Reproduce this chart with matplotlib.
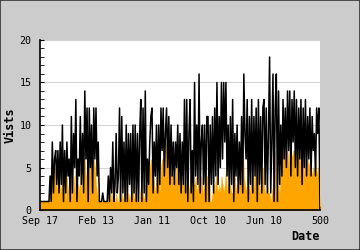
import numpy as np
import matplotlib
matplotlib.use("Agg")
import matplotlib.pyplot as plt
from matplotlib.patches import Rectangle

# visits (black line), one value every 2 days
visits = [
    1, 1, 1, 1, 1, 1, 1, 1, 1, 4, 1, 8, 2, 6, 7, 3, 7, 2,
    8, 3, 10, 1, 7, 2, 8, 4, 6, 1, 11, 2, 9, 5, 13, 1, 6, 4,
    11, 3, 9, 2, 14, 6, 12, 1, 12, 5, 10, 2, 12, 6,
    12, 4, 8, 1, 1, 1, 2, 1, 1, 1, 1, 4, 1, 5, 2, 8, 1, 3, 9, 2,
    4, 12, 1, 11, 2, 8, 1, 10, 1, 9, 3, 9, 1, 10, 2, 10, 1, 9, 1, 9,
    13, 1, 12, 2, 14, 1, 6, 3, 8, 11,
    12, 2, 8, 4, 10, 2, 10, 3, 12, 7, 12, 4, 9, 12, 5, 11, 3, 10, 4, 8,
    3, 8, 5, 10, 3, 9, 2, 8, 3, 13, 2, 13, 1, 9, 13, 2, 7, 1, 15, 4,
    10, 3, 16, 2, 8, 10, 3, 10, 1, 11,
    11, 1, 10, 3, 11, 2, 12, 4, 15, 3, 11, 5, 15, 6, 15, 8, 15, 4, 10, 2,
    11, 3, 13, 1, 9, 4, 10, 2, 8, 3, 11, 2, 16, 9, 6, 13, 1, 11, 3, 13,
    2, 11, 4, 12, 1, 13, 3, 11, 2, 12,
    13, 3, 12, 2, 9, 18, 2, 8, 16, 1, 12, 16, 1, 14, 3, 10, 4, 13, 6, 12,
    5, 14, 7, 14, 4, 13, 8, 14, 5, 13, 4, 12, 6, 13, 3, 12, 5, 13, 4, 11,
    6, 12, 4, 11, 7, 9, 4, 12, 9, 12, 0,
]

# second series (orange area)
uniques = [
    1, 1, 1, 1, 1, 1, 1, 1, 1, 4, 1, 3, 2, 5, 4, 2, 4, 1,
    3, 2, 6, 1, 3, 1, 4, 2, 3, 1, 5, 1, 4, 2, 6, 1, 3, 2,
    5, 2, 4, 1, 6, 3, 6, 1, 7, 4, 8, 2, 6, 5,
    3, 2, 1, 1, 1, 1, 1, 1, 1, 1, 1, 2, 1, 2, 1, 3, 1, 1, 2, 1,
    1, 3, 1, 2, 1, 2, 1, 3, 1, 2, 1, 2, 1, 3, 1, 2, 1, 2, 1, 1,
    3, 1, 2, 1, 3, 1, 3, 4, 5, 6,
    5, 4, 3, 2, 4, 3, 4, 2, 5, 6, 6, 7, 7, 8, 7, 6, 5, 4, 5, 3,
    4, 3, 6, 3, 4, 2, 3, 3, 4, 2, 3, 2, 3, 2, 4, 3, 2, 3, 3, 4,
    2, 3, 3, 2, 4, 3, 2, 3, 2, 4,
    4, 4, 1, 1, 2, 3, 2, 4, 3, 2, 3, 2, 4, 3, 2, 3, 5, 2, 3, 2,
    3, 2, 2, 3, 4, 2, 3, 2, 5, 3, 6, 9, 4, 3, 2, 4, 3, 2, 3, 4,
    2, 3, 5, 2, 3, 4, 2, 3, 4, 5,
    3, 2, 2, 3, 2, 2, 1, 2, 3, 1, 7, 2, 1, 3, 2, 5, 7, 7, 6, 7,
    7, 7, 5, 7, 7, 6, 7, 7, 4, 7, 6, 7, 6, 5, 6, 6, 4, 6, 5, 6,
    5, 6, 5, 4, 5, 5, 6, 4, 5, 3, 0,
]

tick_pos = [0, 100, 200, 300, 400, 500]
tick_labels = ["Sep 17", "Feb 13", "Jan 11", "Oct 10", "Jun 10", "500"]

x = np.arange(len(visits)) * 2

fig = plt.figure(figsize=(3.6, 2.5), dpi=100, facecolor="#cccccc")
ax = fig.add_axes([40 / 360, 40 / 250, 280 / 360, 170 / 250])
fig.patches.append(Rectangle((0, 0), 1, 1, transform=fig.transFigure,
                             fill=False, edgecolor="#333333", lw=1.2))

ax.fill_between(x, uniques, color="orange", lw=0.3, zorder=2)
ax.plot(x, visits, color="black", lw=1.1, zorder=3)

ax.set_xlim(0, 500)
ax.set_ylim(0, 20)
ax.set_yticks([0, 5, 10, 15, 20])
ax.set_yticks(range(0, 21), minor=True)
ax.set_xticks(tick_pos)
ax.set_xticklabels(tick_labels)
ax.grid(axis="y", color="#d4d4d4", lw=0.8, zorder=0)
ax.set_axisbelow(True)

for s in ["top", "right"]:
    ax.spines[s].set_visible(False)
ax.spines["left"].set_linewidth(1.2)
ax.spines["bottom"].set_linewidth(1.2)

mono = "DejaVu Sans Mono"
ax.tick_params(axis="both", which="both", direction="in", color="black")
ax.tick_params(axis="y", which="both", length=3, pad=6)
ax.tick_params(axis="x", length=3, pad=4)
for lab in ax.get_xticklabels() + ax.get_yticklabels():
    lab.set_family(mono)
    lab.set_fontsize(7.2)

fig.text(10 / 360, 1 - 125 / 250, "Vists", rotation=90, family=mono,
         fontweight="bold", fontsize=8.5, ha="center", va="center")
fig.text(305 / 360, 1 - 236 / 250, "Date", family=mono,
         fontweight="bold", fontsize=8.5, ha="center", va="center")

fig.savefig("out.png", dpi=100, facecolor=fig.get_facecolor())
